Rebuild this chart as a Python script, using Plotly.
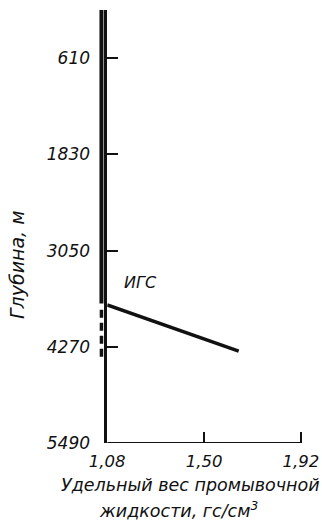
import plotly.graph_objects as go

# Depth scale (m) and density ticks (gs/cm3)
depth_ticks = [610, 1830, 3050, 4270, 5490]
density_ticks = [1.08, 1.50, 1.92]
density_tick_text = ["1,08", "1,50", "1,92"]

# Formation gradient line: solid section then dashed continuation
grad_solid_density = [1.055, 1.055]
grad_solid_depth = [0, 3720]
grad_dash_density = [1.055, 1.055]
grad_dash_depth = [3800, 4420]

# Mud density line labelled "ИГС"
igs_density = [1.08, 1.65]
igs_depth = [3740, 4325]
igs_label_pos = (1.223, 3450)

FONT = "DejaVu Sans"
INK = "#111111"

W, H = 322, 523
ML, MR, MT, MB = 98, 20, 10, 80
WIDE_RANGE = [1.04, 1.9245]   # hidden axis that also covers the left of 1,08
MAIN_RANGE = [1.08, 1.9245]   # visible density axis
main_start = (MAIN_RANGE[0] - WIDE_RANGE[0]) / (WIDE_RANGE[1] - WIDE_RANGE[0])


def px_to_paper(px, py):
    pw = W - ML - MR
    ph = H - MT - MB
    return (px - ML) / pw, 1 - (py - MT) / ph


fig = go.Figure()

# the gradient line sits just left of the 1,08 axis, so it lives on the wide axis
fig.add_trace(go.Scatter(
    x=grad_solid_density, y=grad_solid_depth, xaxis="x2", yaxis="y", mode="lines",
    line=dict(color=INK, width=4), showlegend=False, hoverinfo="skip"))
fig.add_trace(go.Scatter(
    x=grad_dash_density, y=grad_dash_depth, xaxis="x2", yaxis="y", mode="lines",
    line=dict(color=INK, width=3.5, dash="8px,5px"), showlegend=False, hoverinfo="skip"))
fig.add_trace(go.Scatter(
    x=igs_density, y=igs_depth, mode="lines",
    line=dict(color=INK, width=3.5), showlegend=False, hoverinfo="skip"))

tickfont = dict(family=FONT, size=16.5, style="italic", color=INK)

fig.update_layout(
    width=W, height=H,
    margin=dict(l=ML, r=MR, t=MT, b=MB, pad=0, autoexpand=False),
    paper_bgcolor="white", plot_bgcolor="rgba(0,0,0,0)",
    font=dict(family=FONT, color=INK, size=16, style="italic"),
    xaxis=dict(
        domain=[main_start, 1], range=MAIN_RANGE, anchor="y", automargin=False,
        showgrid=False, zeroline=False,
        showline=False,
        tickvals=density_ticks, ticktext=density_tick_text,
        ticks="inside", ticklen=11, tickwidth=1.8, tickcolor=INK,
        tickfont=tickfont, ticklabelstandoff=6,
    ),
    xaxis2=dict(
        domain=[0, 1], range=WIDE_RANGE, anchor="y", visible=False, automargin=False,
    ),
    yaxis=dict(
        range=[5490, 0], anchor="x", automargin=False,
        showgrid=False, zeroline=False,
        showline=True, linecolor=INK, linewidth=2.5,
        tickvals=depth_ticks, ticktext=[str(v) for v in depth_ticks],
        ticks="inside", ticklen=11, tickwidth=1.5, tickcolor=INK,
        tickfont=dict(family=FONT, size=17, style="italic", color=INK),
        ticklabelstandoff=11,
    ),
    # the depth-axis base line runs from 1,08 to 1,92 only
    shapes=[dict(type="line", xref="x", yref="y",
                 x0=density_ticks[0], x1=density_ticks[-1], y0=5490, y1=5490,
                 line=dict(color=INK, width=2))],
)

fig.add_annotation(x=igs_label_pos[0], y=igs_label_pos[1], xref="x", yref="y",
                   text="ИГС", showarrow=False,
                   font=dict(family=FONT, size=16, style="italic", color=INK))

ax, ay = px_to_paper(17, 265)
fig.add_annotation(x=ax, y=ay, xref="paper", yref="paper", text="Глубина, м",
                   textangle=-90, showarrow=False, xanchor="center", yanchor="middle",
                   font=dict(family=FONT, size=19, style="italic", color=INK))

l1x, l1y = px_to_paper(190, 485)
fig.add_annotation(x=l1x, y=l1y, xref="paper", yref="paper",
                   text="Удельный вес промывочной", showarrow=False,
                   xanchor="center", yanchor="middle",
                   font=dict(family=FONT, size=17.5, style="italic", color=INK))
l2x, l2y = px_to_paper(178, 510)
fig.add_annotation(x=l2x, y=l2y, xref="paper", yref="paper",
                   text="жидкости, гс/см<sup>3</sup>", showarrow=False,
                   xanchor="center", yanchor="middle",
                   font=dict(family=FONT, size=17.5, style="italic", color=INK))

fig.write_html("out.html")
